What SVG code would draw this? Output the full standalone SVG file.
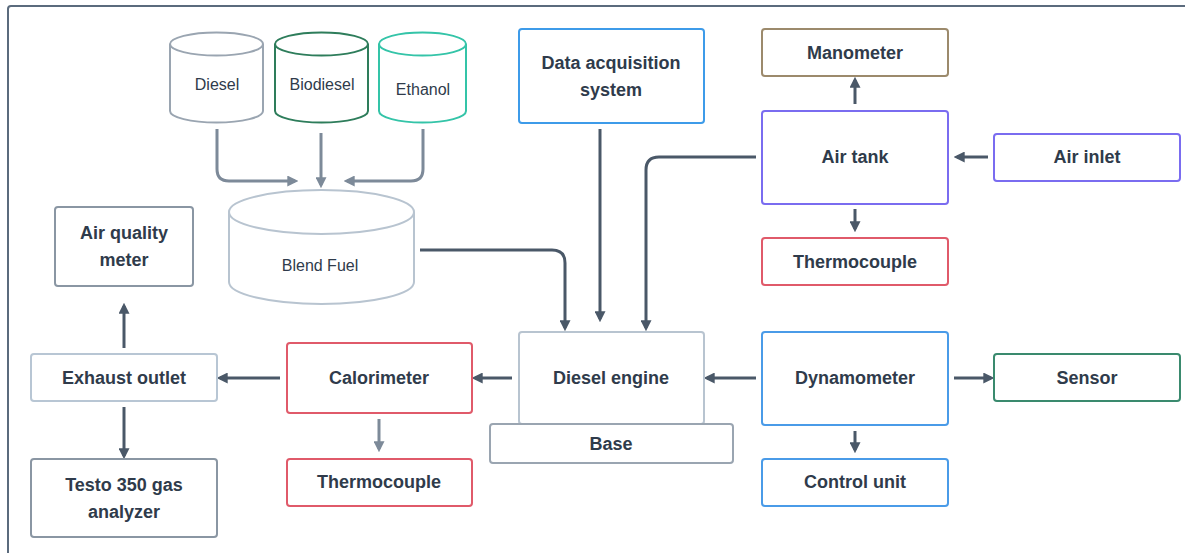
<svg xmlns="http://www.w3.org/2000/svg" width="1185" height="553" viewBox="0 0 1185 553">
<style>
.box{fill:#fff;stroke-width:2}
.t{font-family:"Liberation Sans",Arial,sans-serif;font-weight:bold;font-size:18px;fill:#2f3b4b;text-anchor:middle;dominant-baseline:central}
.c{font-family:"Liberation Sans",Arial,sans-serif;font-size:16px;fill:#2f3b4b;text-anchor:middle;dominant-baseline:central}
.d{fill:none;stroke:#4a5868;stroke-width:3}
.l{fill:none;stroke:#7d8a99;stroke-width:3}
</style>
<defs>
<marker id="ad" viewBox="0 0 10 10" refX="7" refY="5" markerWidth="11" markerHeight="11" markerUnits="userSpaceOnUse" orient="auto"><path d="M0,0 L10,5 L0,10 z" fill="#4a5868"/></marker>
<marker id="al" viewBox="0 0 10 10" refX="7" refY="5" markerWidth="11" markerHeight="11" markerUnits="userSpaceOnUse" orient="auto"><path d="M0,0 L10,5 L0,10 z" fill="#7d8a99"/></marker>
</defs>
<rect width="1185" height="553" fill="#fff"/>
<rect x="8" y="6" width="1260" height="600" rx="3" fill="none" stroke="#5b6b7d" stroke-width="2"/>

<g id="connectors">
<path class="l" d="M217,129 V169 Q217,181 229,181 H295" marker-end="url(#al)"/>
<path class="l" d="M321,133 V185" marker-end="url(#al)"/>
<path class="l" d="M423,129 V169 Q423,181 411,181 H347" marker-end="url(#al)"/>
<path class="d" d="M420,250 H552 Q565,250 565,263 V328" marker-end="url(#ad)"/>
<path class="d" d="M600,129 V319" marker-end="url(#ad)"/>
<path class="d" d="M756,157 H659 Q646,157 646,170 V328" marker-end="url(#ad)"/>
<path class="d" d="M855,104 V80" marker-end="url(#ad)"/>
<path class="d" d="M988,157 H957" marker-end="url(#ad)"/>
<path class="d" d="M855,209 V229" marker-end="url(#ad)"/>
<path class="d" d="M512,378 H475" marker-end="url(#ad)"/>
<path class="d" d="M280,378 H220" marker-end="url(#ad)"/>
<path class="d" d="M124,348 V306" marker-end="url(#ad)"/>
<path class="d" d="M124,407 V456" marker-end="url(#ad)"/>
<path class="l" d="M379,419 V449" marker-end="url(#al)"/>
<path class="d" d="M756,378 H707" marker-end="url(#ad)"/>
<path class="d" d="M954,378 H991" marker-end="url(#ad)"/>
<path class="d" d="M855,431 V450" marker-end="url(#ad)"/>
</g>

<g id="diesel">
<path class="box" stroke="#9aa5b1" d="M170,44 V111 A46.5,11.5 0 0 0 263,111 V44"/>
<ellipse class="box" stroke="#9aa5b1" cx="216.5" cy="44" rx="46.5" ry="11.5"/>
<text class="c" x="217" y="84">Diesel</text>
</g>
<g id="biodiesel">
<path class="box" stroke="#2e7d5b" d="M275,44 V111 A46.5,11.5 0 0 0 368,111 V44"/>
<ellipse class="box" stroke="#2e7d5b" cx="321.5" cy="44" rx="46.5" ry="11.5"/>
<text class="c" x="322" y="84">Biodiesel</text>
</g>
<g id="ethanol">
<path class="box" stroke="#34c4a8" d="M379,44 V111 A43.5,11.5 0 0 0 466,111 V44"/>
<ellipse class="box" stroke="#34c4a8" cx="422.5" cy="44" rx="43.5" ry="11.5"/>
<text class="c" x="423" y="89">Ethanol</text>
</g>
<g id="blend">
<path class="box" stroke="#b8c4d0" d="M229,212 V282 A92.5,22 0 0 0 414,282 V212"/>
<ellipse class="box" stroke="#b8c4d0" cx="321.5" cy="212" rx="92.5" ry="22"/>
<text class="c" x="320" y="265">Blend Fuel</text>
</g>

<g id="airquality">
<rect class="box" stroke="#8a96a3" x="55" y="207" width="138" height="79" rx="3"/>
<text class="t" x="124" y="233">Air quality</text>
<text class="t" x="124" y="260">meter</text>
</g>
<g id="exhaust">
<rect class="box" stroke="#b8c6d4" x="31" y="354" width="186" height="47" rx="3"/>
<text class="t" x="124" y="378">Exhaust outlet</text>
</g>
<g id="testo">
<rect class="box" stroke="#8a96a3" x="31" y="459" width="186" height="78" rx="3"/>
<text class="t" x="124" y="485">Testo 350 gas</text>
<text class="t" x="124" y="512">analyzer</text>
</g>
<g id="calorimeter">
<rect class="box" stroke="#e05a6a" x="287" y="343" width="185" height="70" rx="3"/>
<text class="t" x="379" y="378">Calorimeter</text>
</g>
<g id="thermo2">
<rect class="box" stroke="#e05a6a" x="287" y="459" width="185" height="47" rx="3"/>
<text class="t" x="379" y="482">Thermocouple</text>
</g>
<g id="dataacq">
<rect class="box" stroke="#3d9be9" x="519" y="29" width="185" height="94" rx="3"/>
<text class="t" x="611" y="63">Data acquisition</text>
<text class="t" x="611" y="90">system</text>
</g>
<g id="engine">
<rect class="box" stroke="#b8c4d0" x="519" y="332" width="185" height="92" rx="3"/>
<text class="t" x="611" y="378">Diesel engine</text>
</g>
<g id="base">
<rect class="box" stroke="#9aa5b1" x="490" y="424" width="243" height="39" rx="3"/>
<text class="t" x="611" y="444">Base</text>
</g>
<g id="manometer">
<rect class="box" stroke="#9c8a6c" x="762" y="29" width="186" height="47" rx="3"/>
<text class="t" x="855" y="53">Manometer</text>
</g>
<g id="airtank">
<rect class="box" stroke="#7a6cf0" x="762" y="111" width="186" height="93" rx="3"/>
<text class="t" x="855" y="157">Air tank</text>
</g>
<g id="airinlet">
<rect class="box" stroke="#7a6cf0" x="994" y="134" width="186" height="47" rx="3"/>
<text class="t" x="1087" y="157">Air inlet</text>
</g>
<g id="thermo1">
<rect class="box" stroke="#e05a6a" x="762" y="238" width="186" height="47" rx="3"/>
<text class="t" x="855" y="262">Thermocouple</text>
</g>
<g id="dynamometer">
<rect class="box" stroke="#4a9be8" x="762" y="332" width="186" height="93" rx="3"/>
<text class="t" x="855" y="378">Dynamometer</text>
</g>
<g id="sensor">
<rect class="box" stroke="#3a8a6e" x="994" y="354" width="186" height="47" rx="3"/>
<text class="t" x="1087" y="378">Sensor</text>
</g>
<g id="controlunit">
<rect class="box" stroke="#4a9be8" x="762" y="459" width="186" height="47" rx="3"/>
<text class="t" x="855" y="482">Control unit</text>
</g>
</svg>
